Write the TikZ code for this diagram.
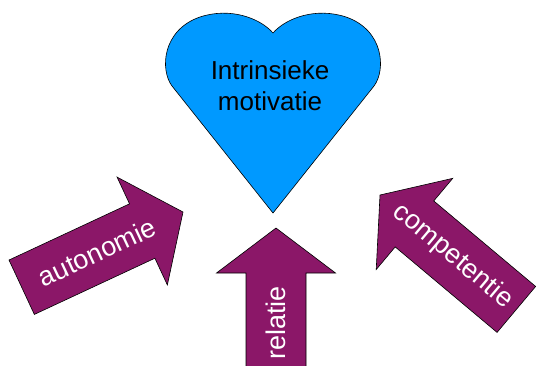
\documentclass[tikz,border=0pt]{standalone}
\usepackage{fontspec}
\setmainfont{Liberation Sans}
\definecolor{heartblue}{RGB}{0,153,255}
\definecolor{plum}{RGB}{139,23,104}
\begin{document}
\begin{tikzpicture}[x=1pt,y=-1pt,
heartstyle/.style={fill=heartblue,draw=black,line width=0.6pt},
arrowshape/.style={fill=plum,draw=black,line width=0.6pt,line join=miter},
arrowtext/.style={text=white,font=\fontsize{27}{32}\selectfont,inner sep=0pt},
plumarrow/.pic={
  \draw[arrowshape] (0,0) -- (-45,59.5) -- (-45,30) -- (-178,30)
    -- (-178,-30) -- (-45,-30) -- (-45,-59.5) -- cycle;}]

\useasboundingbox (0,0) rectangle (538,365);
\clip (0,0) rectangle (538,365);

\draw[heartstyle] (273,213) -- (172,86) .. controls (160,70) and (162,30) .. (200,17)
  .. controls (230,7) and (260,18) .. (273,33)
  .. controls (286,18) and (316,7) .. (346,17)
  .. controls (384,30) and (386,70) .. (374,86) -- cycle;
\node[align=center,font=\fontsize{26}{31}\selectfont] (heart) at (270,86) {Intrinsieke\\motivatie};

\begin{scope}[shift={(183,212)},rotate=25]
\pic[transform shape] {plumarrow};
\node[arrowtext,rotate=25] (autonomie) at (-95,0) {autonomie};
\end{scope}

\begin{scope}[shift={(276,228)},rotate=90]
\pic[transform shape] {plumarrow};
\node[arrowtext,rotate=90] (relatie) at (-95,0) {relatie};
\end{scope}

\begin{scope}[shift={(380,195)},rotate=140]
\pic[transform shape] {plumarrow};
\node[arrowtext,rotate=-40] (competentie) at (-95,0) {competentie};
\end{scope}

\end{tikzpicture}
\end{document}
